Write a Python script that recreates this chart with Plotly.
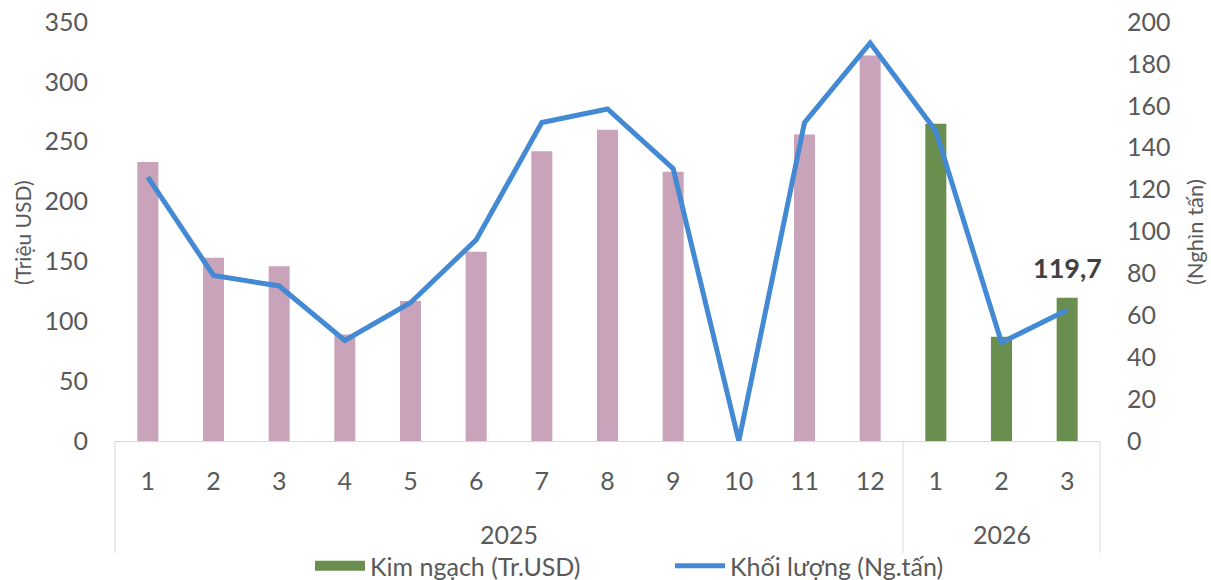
import plotly.graph_objects as go

# ---- data ----
months = ["1", "2", "3", "4", "5", "6", "7", "8", "9", "10", "11", "12", "1", "2", "3"]
years = ["2025"] * 12 + ["2026"] * 3
kim_ngach = [233, 153, 146, 89, 117, 158, 242, 260, 225, 0, 256, 322, 265, 87, 119.7]
khoi_luong = [126, 79, 74, 48, 66, 96, 152, 158.5, 130, 0, 152, 190, 148, 47, 62.5]
year_labels = ["2025", "2026"]
label_text = "119,7"

FONT = "Lato"
TXT = "#595959"
PINK = "#C9A3BA"
GREEN = "#6A8E4E"
BLUE = "#4389D3"

n = len(months)
idx = list(range(n))
i25 = [i for i in idx if years[i] == "2025"]
i26 = [i for i in idx if years[i] == "2026"]

fig = go.Figure()
# legend-only entry (wide green swatch like the reference)
fig.add_trace(go.Scatter(
    x=[None], y=[None], name="Kim ngạch (Tr.USD)", mode="lines",
    line=dict(color=GREEN, width=17), yaxis="y", hoverinfo="skip",
))
fig.add_trace(go.Bar(
    x=i26, y=[kim_ngach[i] for i in i26], name="Kim ngạch (Tr.USD)",
    marker=dict(color=GREEN, line=dict(width=0)), width=0.32, yaxis="y", showlegend=False,
))
fig.add_trace(go.Bar(
    x=i25, y=[kim_ngach[i] for i in i25], name="Kim ngạch 2025",
    marker=dict(color=PINK, line=dict(width=0)), width=0.32, yaxis="y", showlegend=False,
))
fig.add_trace(go.Scatter(
    x=idx, y=khoi_luong, name="Khối lượng (Ng.tấn)", mode="lines",
    line=dict(color=BLUE, width=5), yaxis="y2",
))

# body margin removed by post_script -> page px == figure px
W, HH = 1211, 580
L, R, T, B = 115, 1100, 22, 441
H = B - T

def py(pix):
    return (B - pix) / H

def px(pix):
    return (pix - L) / (R - L)

n25 = len(i25)
shapes = []
for xp in [0.0, n25 / n, 1.0]:
    shapes.append(dict(type="line", xref="paper", yref="paper", x0=xp, x1=xp,
                       y0=0, y1=py(553), line=dict(color="#D9D9D9", width=1)))

annotations = [
    dict(x=(n25 - 1) / 2, y=py(534), xref="x", yref="paper", text=year_labels[0],
         showarrow=False, font=dict(family=FONT, size=25, color=TXT), yanchor="middle"),
    dict(x=n25 + (len(i26) - 1) / 2, y=py(534), xref="x", yref="paper", text=year_labels[1],
         showarrow=False, font=dict(family=FONT, size=25, color=TXT), yanchor="middle"),
    dict(x=n - 1, y=kim_ngach[-1], xref="x", yref="y", text="<b>" + label_text + "</b>",
         showarrow=False, font=dict(family=FONT, size=27, color="#404040"),
         yanchor="bottom", yshift=12),
    dict(x=px(22), y=py(233), xref="paper", yref="paper", text="(Triệu USD)",
         xanchor="center", yanchor="middle",
         textangle=-90, showarrow=False, font=dict(family=FONT, size=21, color=TXT)),
    dict(x=px(1194), y=py(232), xref="paper", yref="paper", text="(Nghìn tấn)",
         xanchor="center", yanchor="middle",
         textangle=-90, showarrow=False, font=dict(family=FONT, size=22, color=TXT)),
]

fig.update_layout(
    width=W, height=HH,
    margin=dict(l=L, r=W - R, t=T, b=HH - B, pad=0, autoexpand=False),
    paper_bgcolor="white", plot_bgcolor="white",
    barmode="overlay",
    font=dict(family=FONT, size=24, color=TXT),
    xaxis=dict(range=[-0.5, n - 0.5], tickvals=idx, ticktext=months, showgrid=False,
               zeroline=False, showline=True, linecolor="#D9D9D9", linewidth=1,
               ticks="", ticklabelstandoff=18, automargin=False,
               tickfont=dict(size=25, color=TXT)),
    yaxis=dict(range=[0, 350], tickvals=list(range(0, 351, 50)), showgrid=False,
               zeroline=False, showline=False, ticks="", ticklabelstandoff=26,
               automargin=False, ticklabeloverflow="allow",
               tickfont=dict(size=25, color=TXT)),
    yaxis2=dict(range=[0, 200], tickvals=list(range(0, 201, 20)), overlaying="y", side="right",
                showgrid=False, zeroline=False, showline=False, ticks="", ticklabelstandoff=26,
                automargin=False, ticklabeloverflow="allow",
                tickfont=dict(size=25, color=TXT)),
    legend=dict(orientation="h", x=px(310), xanchor="left",
                yref="container", y=(HH - 566) / HH, yanchor="middle",
                font=dict(family=FONT, size=25, color=TXT),
                itemwidth=50, entrywidth=295, traceorder="normal",
                bgcolor="rgba(0,0,0,0)"),
    shapes=shapes, annotations=annotations, showlegend=True,
)

fig.write_html(
    "out.html",
    config={"displayModeBar": False},
    post_script="document.body.style.margin='0';document.body.style.overflow='hidden';",
)
